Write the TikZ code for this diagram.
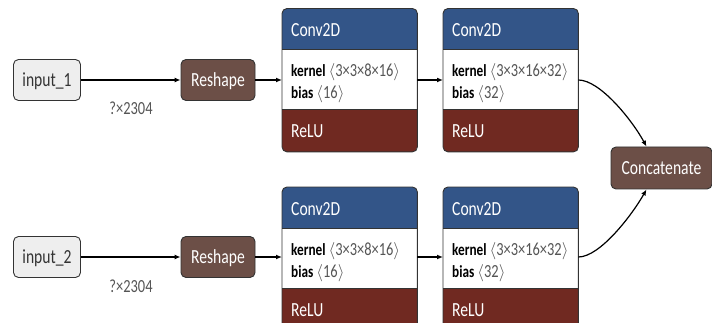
\documentclass[tikz,border=0pt]{standalone}
\usepackage{fontspec}
\setmainfont{Carlito}[FakeStretch=0.78]
\usetikzlibrary{arrows.meta,calc}
\definecolor{convblue}{HTML}{335588}
\definecolor{actred}{HTML}{702921}
\definecolor{shapebrown}{HTML}{6C4F47}
\definecolor{inputfill}{HTML}{EEEEEE}
\definecolor{bordergray}{HTML}{333333}
\definecolor{dimgray}{HTML}{555555}
\tikzset{
  inbox/.style={draw=bordergray, fill=inputfill, rounded corners=5pt, line width=0.9pt,
    minimum width=67pt, minimum height=41pt, inner sep=0pt, text height=13pt, text depth=0pt,
    font=\fontsize{20}{22}\selectfont, text=bordergray},
  shbox/.style={draw=bordergray, fill=shapebrown, rounded corners=5pt, line width=0.9pt,
    minimum height=41pt, inner sep=0pt, text height=13pt, text depth=0pt,
    font=\fontsize{20}{22}\selectfont, text=white},
  arr/.style={-{Latex[length=6pt,width=5pt]}, line width=1.2pt, black},
  shapelbl/.style={anchor=base, inner sep=0pt, font=\fontsize{18.5}{20}\selectfont, text=dimgray},
  hdr/.style={anchor=base west, inner sep=0pt, font=\fontsize{20}{22}\selectfont, text=white},
  attr/.style={anchor=base west, inner sep=0pt, font=\fontsize{17}{19}\selectfont, text=black},
}
\newcommand\dimtxt[1]{{\fontsize{18.5}{19}\selectfont\textcolor{dimgray}{\(\langle\)#1\(\rangle\)}}}
\newcommand\convblk[5]{%
  \node[inner sep=0pt, minimum width=135pt, minimum height=143pt, anchor=north west] (#1) at (#2,#3) {};
  \begin{scope}
    \clip[rounded corners=5pt] (#1.south west) rectangle (#1.north east);
    \fill[actred] (#1.south west) rectangle (#1.north east);
    \fill[white] (#1.north west) rectangle ([yshift=-101pt]#1.north east);
    \fill[convblue] (#1.north west) rectangle ([yshift=-41pt]#1.north east);
  \end{scope}
  \draw[bordergray, line width=0.7pt] ([yshift=-41pt]#1.north west) -- ([yshift=-41pt]#1.north east);
  \draw[bordergray, line width=0.7pt] ([yshift=-101pt]#1.north west) -- ([yshift=-101pt]#1.north east);
  \draw[bordergray, line width=0.9pt, rounded corners=5pt] (#1.south west) rectangle (#1.north east);
  \node[hdr] (#1h) at ([xshift=9pt,yshift=-28pt]#1.north west) {Conv2D};
  \node[attr] (#1k) at ([xshift=9pt,yshift=-68pt]#1.north west) {\textbf{kernel} \dimtxt{#4}};
  \node[attr] (#1b) at ([xshift=9pt,yshift=-90pt]#1.north west) {\textbf{bias} \dimtxt{#5}};
  \node[hdr] (#1r) at ([xshift=9pt,yshift=-129.5pt]#1.north west) {ReLU};
}
\begin{document}
\begin{tikzpicture}[x=1pt,y=-1pt]
\useasboundingbox (0,0) rectangle (712,323);
% top row
\node[inbox] (in1) at (47,80) {input\_1};
\node[shbox, minimum width=74pt] (rs1) at (218,80) {Reshape};
\node[shapelbl] (l1) at (131,115) {?×2304};
\convblk{c1}{282}{8.5}{3×3×8×16}{16}
\convblk{c2}{443}{8.5}{3×3×16×32}{32}
% bottom row
\node[inbox] (in2) at (47,257) {input\_2};
\node[shbox, minimum width=74pt] (rs2) at (218,257) {Reshape};
\node[shapelbl] (l2) at (131,292) {?×2304};
\convblk{c3}{282}{187}{3×3×8×16}{16}
\convblk{c4}{443}{187}{3×3×16×32}{32}
% concatenate
\node[shbox, minimum width=101pt, minimum height=42pt, text height=14pt] (cat) at (661.5,168) {Concatenate};
\coordinate (catin1) at ([xshift=-15pt]cat.north);
\coordinate (catin2) at ([xshift=-15pt]cat.south);
% connectors
\draw[arr] (in1) -- (rs1);
\draw[arr] (in2) -- (rs2);
\draw[arr] (rs1.east) -- (rs1.east -| c1.west);
\draw[arr] (rs2.east) -- (rs2.east -| c3.west);
\draw[arr] (c1.east |- rs1) -- (rs1 -| c2.west);
\draw[arr] (c3.east |- rs2) -- (rs2 -| c4.west);
\draw[arr] (c2.east |- rs1) .. controls (600,80) and (632,120) .. (catin1);
\draw[arr] (c4.east |- rs2) .. controls (600,257) and (632,215) .. (catin2);
\end{tikzpicture}
\end{document}
